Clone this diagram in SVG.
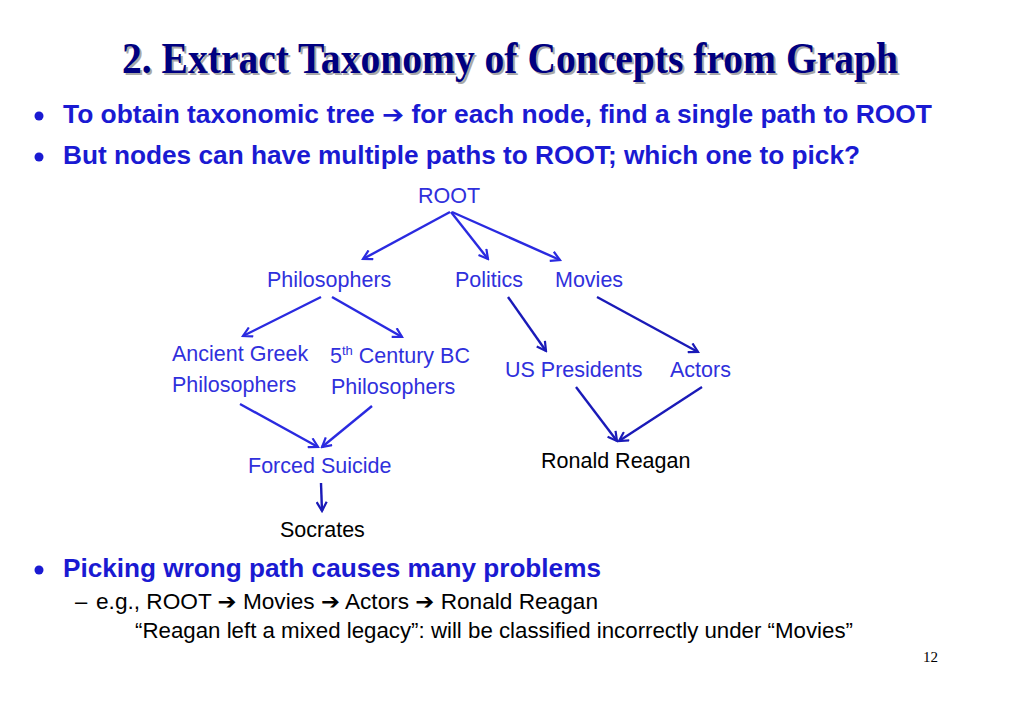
<svg xmlns="http://www.w3.org/2000/svg" width="1023" height="708" viewBox="0 0 1023 708">
<defs>
<style>
.title{font-family:"Liberation Serif","Times New Roman",serif;font-weight:bold;font-size:44px}
.bul{font-family:"Liberation Sans",Arial,sans-serif;font-weight:bold;font-size:25px;fill:#1a1ad2}
.node{font-family:"Liberation Sans",Arial,sans-serif;font-size:21.5px;fill:#3030dc}
.leaf{font-family:"Liberation Sans",Arial,sans-serif;font-size:21.5px;fill:#000}
.sub{font-family:"Liberation Sans",Arial,sans-serif;font-size:22px;fill:#000}
.ar{font-family:"DejaVu Sans",sans-serif;font-weight:bold}
.e1{stroke:#2a2ae0;stroke-width:2.4;fill:none;marker-end:url(#h1)}
.e2{stroke:#1a1ab8;stroke-width:2.4;fill:none;marker-end:url(#h2)}
</style>
<marker id="h1" viewBox="0 0 12 12" refX="10" refY="6" markerWidth="12" markerHeight="12" markerUnits="userSpaceOnUse" orient="auto">
<path d="M1,1 L10,6 L1,11" fill="none" stroke="#2a2ae0" stroke-width="2.2"/>
</marker>
<marker id="h2" viewBox="0 0 12 12" refX="10" refY="6" markerWidth="12" markerHeight="12" markerUnits="userSpaceOnUse" orient="auto">
<path d="M1,1 L10,6 L1,11" fill="none" stroke="#1a1ab8" stroke-width="2.2"/>
</marker>
</defs>
<rect width="1023" height="708" fill="#fff"/>

<g id="title">
<text class="title" x="124" y="75" fill="#a8a8a8" textLength="776" lengthAdjust="spacingAndGlyphs">2. Extract Taxonomy of Concepts from Graph</text>
<text class="title" x="122" y="73" fill="#000080" textLength="776" lengthAdjust="spacingAndGlyphs">2. Extract Taxonomy of Concepts from Graph</text>
</g>

<g id="bullets">
<circle cx="39" cy="116" r="4.5" fill="#1a1ad2"/>
<text class="bul" x="63" y="123" textLength="869" lengthAdjust="spacingAndGlyphs">To obtain taxonomic tree <tspan class="ar">➔</tspan> for each node, find a single path to ROOT</text>
<circle cx="39" cy="157" r="4.5" fill="#1a1ad2"/>
<text class="bul" x="63" y="164" textLength="797" lengthAdjust="spacingAndGlyphs">But nodes can have multiple paths to ROOT; which one to pick?</text>
</g>

<g id="connectors">
<line class="e1" x1="450" y1="212" x2="363" y2="259"/>
<line class="e1" x1="451" y1="212" x2="488" y2="259"/>
<line class="e1" x1="452" y1="212" x2="560" y2="260"/>
<line class="e1" x1="321" y1="297" x2="243" y2="336"/>
<line class="e1" x1="332" y1="297" x2="402" y2="337"/>
<line class="e2" x1="508" y1="297" x2="546" y2="351"/>
<line class="e2" x1="597" y1="297" x2="698" y2="352"/>
<line class="e1" x1="240" y1="404" x2="318" y2="447"/>
<line class="e1" x1="372" y1="406" x2="322" y2="447"/>
<line class="e2" x1="321" y1="483" x2="322" y2="511"/>
<line class="e2" x1="576" y1="387" x2="617" y2="441"/>
<line class="e2" x1="702" y1="387" x2="619" y2="441"/>
</g>

<g id="n-root"><text class="node" x="418" y="203">ROOT</text></g>
<g id="n-philosophers"><text class="node" x="267" y="287">Philosophers</text></g>
<g id="n-politics"><text class="node" x="455" y="287">Politics</text></g>
<g id="n-movies"><text class="node" x="555" y="287">Movies</text></g>
<g id="n-ancient-greek"><text class="node" x="172" y="361">Ancient Greek</text><text class="node" x="172" y="392">Philosophers</text></g>
<g id="n-5th-century"><text class="node" x="330" y="363">5<tspan font-size="13" dy="-8">th</tspan><tspan dy="8"> Century BC</tspan></text><text class="node" x="331" y="394">Philosophers</text></g>
<g id="n-us-presidents"><text class="node" x="505" y="377">US Presidents</text></g>
<g id="n-actors"><text class="node" x="670" y="377">Actors</text></g>
<g id="n-forced-suicide"><text class="node" x="248" y="473">Forced Suicide</text></g>
<g id="n-ronald-reagan"><text class="leaf" x="541" y="468">Ronald Reagan</text></g>
<g id="n-socrates"><text class="leaf" x="280" y="537">Socrates</text></g>

<g id="bottom">
<circle cx="39" cy="570" r="4.5" fill="#1a1ad2"/>
<text class="bul" x="63" y="577" textLength="538" lengthAdjust="spacingAndGlyphs">Picking wrong path causes many problems</text>
<text class="sub" x="75" y="609">–</text>
<text class="sub" x="96" y="609" textLength="502" lengthAdjust="spacingAndGlyphs">e.g., ROOT <tspan class="ar">➔</tspan> Movies <tspan class="ar">➔</tspan> Actors <tspan class="ar">➔</tspan> Ronald Reagan</text>
<text class="sub" x="135" y="638" textLength="718" lengthAdjust="spacingAndGlyphs">“Reagan left a mixed legacy”: will be classified incorrectly under “Movies”</text>
<text x="923" y="662" font-family="Liberation Serif, serif" font-size="15" fill="#000">12</text>
</g>
</svg>
